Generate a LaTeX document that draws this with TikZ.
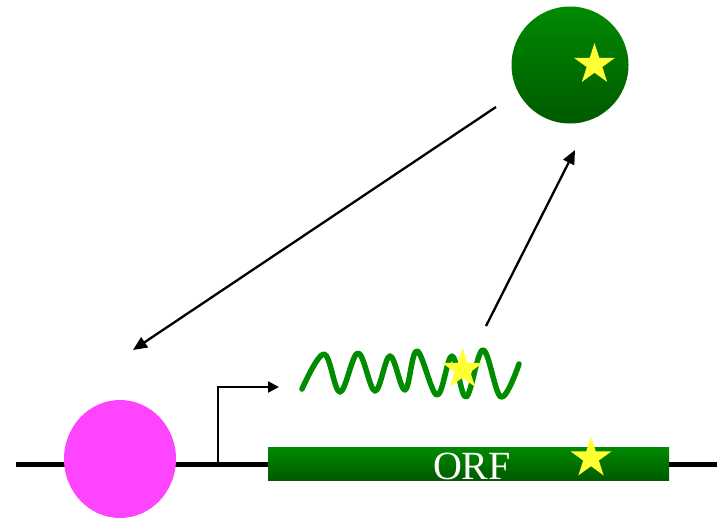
\documentclass[tikz,border=0pt]{standalone}
\usepackage{fontspec}
\setmainfont{Liberation Serif}
\usetikzlibrary{shapes.geometric,arrows.meta}
\definecolor{gtop}{HTML}{008A00}
\definecolor{gbot}{HTML}{005A00}
\definecolor{wavegreen}{HTML}{008C00}
\definecolor{staryellow}{HTML}{FFFF33}
\definecolor{pinkfill}{HTML}{FF44FF}
\tikzset{
  yellowstar/.style={star, star points=5, star point ratio=2.618, minimum size=43pt, inner sep=0pt, fill=staryellow, draw=none},
  conn/.style={line width=2.3pt, -{Triangle[length=14pt,width=12pt]}},
  dna/.style={line width=5pt},
}
\begin{document}
\begin{tikzpicture}[x=1pt,y=-1pt]
\useasboundingbox (0,0) rectangle (717,517);
% DNA
\coordinate (dl) at (16,464);
\coordinate (dr) at (717,464);
\draw[dna] (dl) -- (dr);
% pink repressor
\node (pink) [ellipse, fill=pinkfill, minimum width=112pt, minimum height=118pt, inner sep=0pt] at (120,459) {};
% ORF box
\node (orf) [rectangle, top color=gtop, bottom color=gbot, minimum width=401pt, minimum height=33pt, inner sep=0pt, anchor=north west] at (268,447) {};
\node (orftext) [anchor=base, text=white, font=\fontsize{40}{40}\selectfont, inner sep=0pt] at (472,479) {ORF};
\node (star3) [yellowstar] at (591,458) {};
% promoter
\coordinate (p0) at (218,465);
\coordinate (p1) at (218,387);
\coordinate (p2) at (279,387);
\draw[line width=2.3pt, -{Triangle[length=11pt,width=11pt]}] (p0) -- (p1) -- (p2);
% mRNA wave
\draw[wavegreen, line width=5.5pt, line cap=round, line join=round]
  plot[smooth, tension=0.6] coordinates {(302,389) (324,354) (340,392) (358,353) (375,391) (390,356) (405,390) (417,351) (437,395) (452,356) (466,397) (483,350) (501,397) (519,364)};
\node (star2) [yellowstar] at (462.5,369.5) {};
% protein
\node (prot) [circle, top color=gtop, bottom color=gbot, minimum size=117pt, inner sep=0pt] at (570,65) {};
\node (star1) [yellowstar] at (594.5,64.5) {};
% arrows
\coordinate (a1s) at (496,107);
\coordinate (a1e) at (133,350);
\coordinate (a2s) at (486,326);
\coordinate (a2e) at (575,150);
\draw[conn] (a1s) -- (a1e);
\draw[conn] (a2s) -- (a2e);
\end{tikzpicture}
\end{document}
